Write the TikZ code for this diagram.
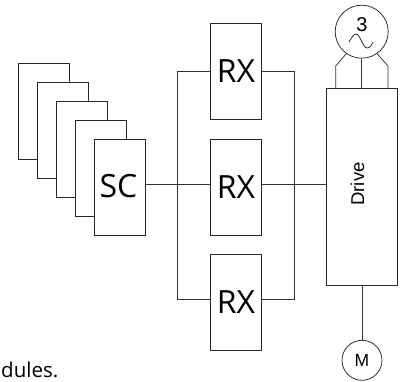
\documentclass[tikz,border=0pt]{standalone}
\usepackage{fontspec}
\setmainfont{Open Sans}
\newfontfamily\arialfont{Liberation Sans}
\tikzset{
  box/.style={draw=black!85,fill=white,line width=0.75pt,minimum width=51pt,minimum height=96pt,inner sep=0pt,font=\fontsize{32}{32}\selectfont},
  drivebox/.style={draw=black!85,fill=white,line width=0.75pt,minimum width=71pt,minimum height=197pt,inner sep=0pt},
  wire/.style={draw=black!80,line width=0.75pt},
  motor/.style={circle,draw=black!85,fill=white,line width=0.75pt,inner sep=0pt},
}
\begin{document}
\begin{tikzpicture}[x=1pt,y=-1pt]
\useasboundingbox (0,0) rectangle (405,381);
\node[box] (s1) at (43.5,111) {};
\node[box] (s2) at (62.5,130) {};
\node[box] (s3) at (81.5,149) {};
\node[box] (s4) at (100.5,168) {};
\node[box] (sc) at (119.5,187) {};
\node[anchor=base,inner sep=0pt,font=\fontsize{32}{32}\selectfont] (sctext) at (118.5,197) {SC};
\node[box] (rx1) at (236,71) {\raisebox{-1pt}{RX}};
\node[box] (rx2) at (236,187) {\raisebox{-1pt}{RX}};
\node[box] (rx3) at (236,302.5) {\raisebox{-1pt}{RX}};
\node[drivebox] (drive) at (361.5,186.5) {};
\node[rotate=90,inner sep=0pt,font=\arialfont\fontsize{18.5}{18.5}\selectfont] (drivetext) at (357.5,184) {Drive};
\node[motor,minimum size=53pt] (gen) at (361.7,31.7) {};
\node[motor,minimum size=40pt,font=\arialfont\fontsize{17.5}{17.5}\selectfont] (m) at (362,360.3) {M};
\node[inner sep=0pt,font=\arialfont\fontsize{20}{20}\selectfont] (three) at (362,24.5) {3};
\coordinate (busL) at (177,184);
\coordinate (busR) at (294,184);
\coordinate (ldrive) at (326,184);
\draw[wire] (sc.east |- busL) -- (rx2.west |- busL);
\draw[wire] (rx2.east |- busL) -- (ldrive);
\draw[wire] (rx1.west) -- (177,71) -- (177,299) -- (rx3.west |- 0,299);
\draw[wire] (rx1.east) -- (294,71) -- (294,299) -- (rx3.east |- 0,299);
\draw[wire] (gen.south) -- (gen.south |- drive.north);
\draw[wire] (gen.-125) -- (335.7,66) -- (335.7,88);
\draw[wire] (gen.-55) -- (388,66) -- (388,88);
\draw[wire] (drive.south -| m.north) -- (m.north);
\draw[black!85,line width=0.75pt] (349,42) .. controls (352,37) and (354,34) .. (356,34) .. controls (360,34) and (363,48) .. (367,48) .. controls (370,48) and (372,45) .. (373,42);
\node[anchor=base west,inner sep=0pt,font=\fontsize{20.5}{21}\selectfont] (cap) at (1,377) {dules.};
\end{tikzpicture}
\end{document}
